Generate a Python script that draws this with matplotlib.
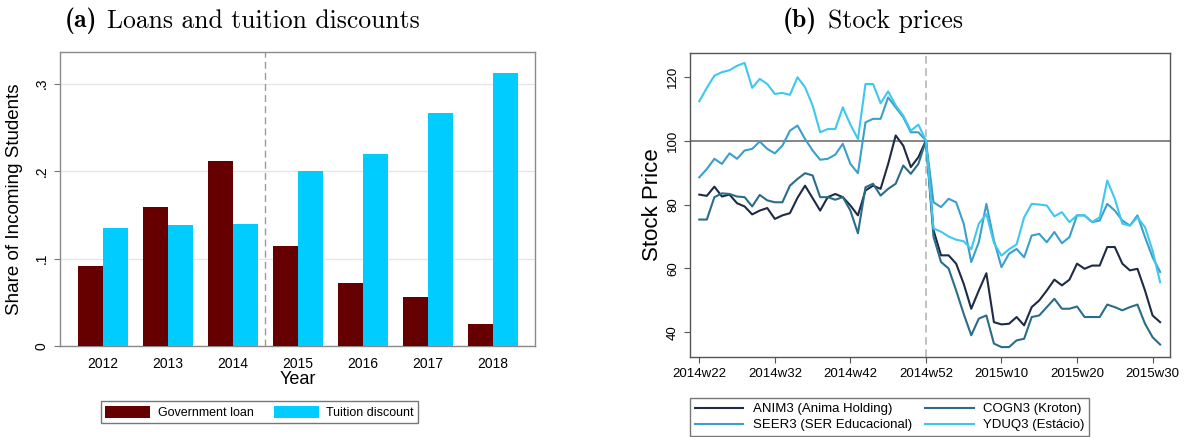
import matplotlib
matplotlib.use("Agg")
import matplotlib.pyplot as plt
import numpy as np

plt.rcParams['font.family'] = ['Liberation Sans', 'DejaVu Sans']

# ---- panel (a) data
years = [2012, 2013, 2014, 2015, 2016, 2017, 2018]
gov_loan = [0.092, 0.159, 0.211, 0.114, 0.072, 0.056, 0.025]
tuition_disc = [0.135, 0.138, 0.139, 0.200, 0.219, 0.266, 0.312]

# ---- panel (b) data (index 100 = 2014w52)
weeks = ["2014w%d" % w for w in range(22, 53)] + ["2015w%d" % w for w in range(1, 32)]
tick_weeks = ["2014w22", "2014w32", "2014w42", "2014w52", "2015w10", "2015w20", "2015w30"]

anim3 = [83.1, 82.7, 85.6, 82.5, 83.1, 80.4, 79.4, 76.9, 78.1, 78.9, 75.5, 76.6, 77.3, 82.1, 85.9,
         82.0, 78.1, 82.3, 83.3, 82.3, 79.7, 76.6, 84.4, 85.9, 84.9, 92.7, 101.6, 98.4, 91.7, 94.8, 100.0,
         72.0, 64.1, 64.1, 61.5, 55.2, 47.4, 53.1, 58.5, 43.2, 42.5, 42.7, 44.8, 42.2, 47.9, 50.0,
         53.1, 56.5, 54.7, 56.5, 61.5, 59.9, 60.9, 60.9, 66.7, 66.7, 61.5, 59.4, 59.9, 53.1, 45.3, 43.2]
cogn3 = [75.3, 75.3, 82.3, 83.5, 83.3, 82.5, 82.3, 79.4, 83.0, 81.3, 80.7, 80.7, 85.9, 88.0, 89.8,
         89.1, 82.3, 82.3, 81.5, 82.3, 78.1, 71.0, 85.4, 86.5, 82.8, 84.9, 86.5, 92.2, 89.6, 92.7, 100.0,
         70.0, 62.0, 60.0, 53.1, 45.8, 39.1, 44.3, 45.3, 36.5, 35.4, 35.4, 37.5, 38.0, 44.8, 45.3,
         47.9, 50.5, 47.4, 47.4, 48.1, 44.8, 44.8, 44.8, 48.7, 47.9, 46.9, 47.9, 48.7, 42.7, 38.5, 36.2]
seer3 = [88.5, 91.1, 94.3, 92.7, 96.0, 94.3, 96.9, 97.4, 99.7, 97.4, 96.0, 98.4, 103.1, 104.7, 100.5,
         96.9, 94.0, 94.3, 95.6, 99.0, 92.7, 89.8, 105.7, 106.8, 106.8, 113.5, 110.4, 107.3, 102.6, 102.6, 100.0,
         80.7, 79.2, 81.8, 80.7, 74.0, 62.0, 68.2, 80.2, 68.8, 60.4, 64.6, 66.1, 63.5, 70.3, 70.8,
         68.2, 71.4, 67.9, 69.8, 76.6, 76.6, 74.5, 75.0, 80.2, 78.1, 75.0, 73.4, 76.6, 69.8, 63.5, 58.9]
yduq3 = [112.3, 116.5, 120.3, 121.4, 122.0, 123.4, 124.3, 116.5, 119.3, 117.7, 114.6, 114.9, 114.3, 119.8, 116.7,
         111.0, 102.6, 103.6, 103.6, 110.4, 105.0, 100.5, 117.7, 117.7, 111.7, 115.4, 111.0, 107.8, 103.1, 105.0, 100.0,
         72.5, 71.5, 70.0, 69.0, 68.5, 66.0, 74.0, 77.0, 68.0, 64.0, 66.0, 67.5, 76.0, 80.2, 80.0,
         79.7, 76.3, 77.6, 74.5, 76.6, 76.6, 74.5, 76.0, 87.5, 81.8, 74.0, 73.4, 76.0, 72.9, 65.6, 55.7]

series = [("ANIM3 (Anima Holding)", anim3, "#1d2b44"),
          ("COGN3 (Kroton)", cogn3, "#2b6d88"),
          ("SEER3 (SER Educacional)", seer3, "#3a9fcb"),
          ("YDUQ3 (Estácio)", yduq3, "#3fc8ee")]

fig = plt.figure(figsize=(11.88, 4.37), dpi=100)

# ================= panel (a)
ax1 = fig.add_axes([0.0505, 0.2082, 0.3998, 0.6728])
x = np.array(years, dtype=float)
w = 0.385
ax1.bar(x - w/2, gov_loan, width=w, color="#660000", label="Government loan", zorder=3)
ax1.bar(x + w/2, tuition_disc, width=w, color="#00ccff", label="Tuition discount", zorder=3)
ax1.axvline(2014.5, color="#9a9a9a", linestyle=(0, (5, 3)), linewidth=1, zorder=2)
ax1.set_xlim(2011.34, 2018.65)
ax1.set_ylim(0, 0.336)
ax1.set_yticks([0, 0.1, 0.2, 0.3])
ax1.set_yticklabels(["0", ".1", ".2", ".3"], rotation=90, va="center")
ax1.set_xticks(years)
ax1.set_xticklabels([str(y) for y in years])
ax1.grid(axis="y", color="#e6e6e6", linewidth=1, zorder=0)
ax1.tick_params(axis="both", labelsize=10, color="#777777", length=4, width=0.8, pad=4)
ax1.tick_params(axis="x", length=0, pad=8)
for s in ax1.spines.values():
    s.set_color("#8a8a8a")
    s.set_linewidth(1)
ax1.set_ylabel("Share of Incoming Students", fontsize=13.5)
ax1.yaxis.set_label_coords(-0.078, 0.5)
ax1.set_xlabel("Year", fontsize=13, labelpad=0)
leg1 = ax1.legend(loc="center", bbox_to_anchor=(0.2184, 0.0561), bbox_transform=fig.transFigure,
                  ncol=2, fontsize=9, frameon=True, fancybox=False, handlelength=3.6,
                  handleheight=1.1, handletextpad=0.6, columnspacing=1.6, borderpad=0.35)
leg1.get_frame().set_edgecolor("#555555")
leg1.get_frame().set_linewidth(1)

fig.text(97/1188, 0.952, "(a)", family="cmb10", fontsize=18.5, ha="right", va="center")
fig.text(107/1188, 0.952, "Loans and tuition discounts", family="cmr10", fontsize=18.5,
         ha="left", va="center")

# ================= panel (b)
ax2 = fig.add_axes([0.5808, 0.1838, 0.4040, 0.6942])
idx = np.arange(len(weeks))
lines = {}
for name, vals, col in series:
    lines[name], = ax2.plot(idx, vals, color=col, linewidth=1.5, label=name, zorder=3)
ax2.axhline(100, color="#707070", linewidth=1.2, zorder=2)
ax2.axvline(weeks.index("2014w52"), color="#b0b0b0", linestyle=(0, (5, 3)), linewidth=1.1, zorder=2)
ax2.set_xlim(-1.23, 62.3)
ax2.set_ylim(32.4, 127.3)
ax2.set_yticks([40, 60, 80, 100, 120])
ax2.set_yticklabels(["40", "60", "80", "100", "120"], rotation=90, va="center")
ax2.set_xticks([weeks.index(t) for t in tick_weeks])
ax2.set_xticklabels(tick_weeks)
ax2.tick_params(axis="both", labelsize=9.5, color="#555555", length=4, width=0.8, pad=4)
for s in ax2.spines.values():
    s.set_color("#555555")
    s.set_linewidth(1)
ax2.set_ylabel("Stock Price", fontsize=16)
ax2.yaxis.set_label_coords(-0.056, 0.5)
order = [series[0][0], series[2][0], series[1][0], series[3][0]]
leg2 = ax2.legend([lines[n] for n in order], order, loc="upper center",
                  bbox_to_anchor=(0.7487, 0.1037), bbox_transform=fig.transFigure,
                  ncol=2, fontsize=9.5, frameon=True, fancybox=False, handlelength=3.7,
                  handletextpad=0.7, columnspacing=1.0, borderpad=0.35, labelspacing=0.3)
leg2.get_frame().set_edgecolor("#555555")
leg2.get_frame().set_linewidth(1)

fig.text(817/1188, 0.952, "(b)", family="cmb10", fontsize=18.5, ha="right", va="center")
fig.text(828/1188, 0.952, "Stock prices", family="cmr10", fontsize=18.5, ha="left", va="center")

fig.savefig("out.png", dpi=100)
